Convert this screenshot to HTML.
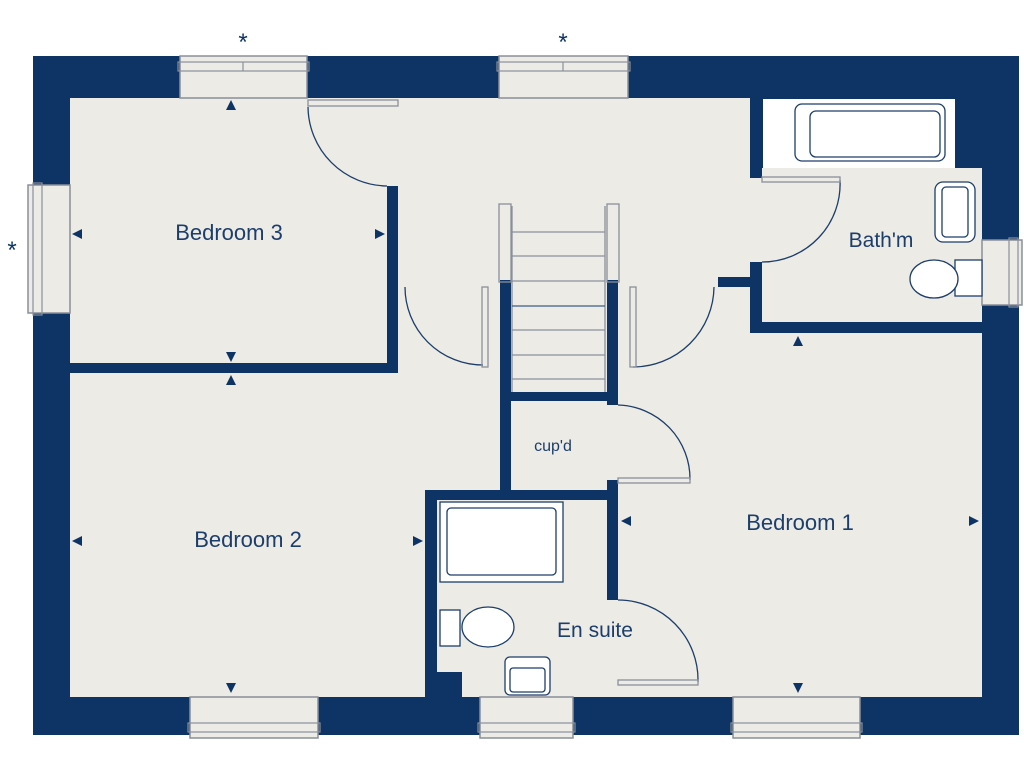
<!DOCTYPE html>
<html><head><style>html,body{margin:0;padding:0;background:#fff}svg{display:block}</style></head>
<body>
<svg width="1024" height="768" viewBox="0 0 1024 768" xmlns="http://www.w3.org/2000/svg" font-family="Liberation Sans, sans-serif">
<rect width="1024" height="768" fill="#fff"/>
<rect x="33" y="56" width="986" height="679" fill="#0d3464"/>
<g fill="#ecebe6">
<rect x="70" y="98" width="680" height="599"/>
<rect x="750" y="168" width="232" height="529"/>
<rect x="437" y="500" width="181" height="197"/>
</g>
<!-- bath area white -->
<rect x="763" y="99" width="192" height="69" fill="#fff"/>
<g fill="#0d3464">
<rect x="70" y="363" width="328" height="10"/>
<rect x="387" y="186" width="11" height="187"/>
<rect x="500" y="280" width="11" height="220"/>
<rect x="607" y="280" width="11" height="125"/>
<rect x="500" y="392" width="118" height="9"/>
<rect x="425" y="490" width="193" height="10"/>
<rect x="425" y="490" width="12" height="207"/>
<rect x="437" y="672" width="25" height="25"/>
<rect x="607" y="480" width="11" height="120"/>
<rect x="750" y="98" width="12" height="80"/>
<rect x="750" y="262" width="12" height="71"/>
<rect x="718" y="277" width="32" height="10"/>
<rect x="750" y="322" width="232" height="11"/>
<rect x="955" y="98" width="27" height="70"/>
</g>
<!-- windows -->
<g fill="#ecebe6" stroke="#8a8f99" stroke-width="1.5">
<rect x="180" y="56" width="127" height="42"/>
<rect x="499" y="56" width="129" height="42"/>
<rect x="190" y="697" width="128" height="41"/>
<rect x="480" y="697" width="93" height="41"/>
<rect x="733" y="697" width="127" height="41"/>
<rect x="28" y="185" width="42" height="128"/>
<rect x="982" y="240" width="40" height="65"/>
</g>
<g stroke="#8a8f99" stroke-width="1.2" fill="none">
<rect x="178" y="62" width="131" height="9"/><line x1="243" y1="62" x2="243" y2="71"/>
<rect x="497" y="62" width="133" height="9"/><line x1="563" y1="62" x2="563" y2="71"/>
<rect x="188" y="723" width="132" height="9"/>
<rect x="478" y="723" width="97" height="9"/>
<rect x="731" y="723" width="131" height="9"/>
<rect x="33" y="183" width="9" height="132"/>
<rect x="1009" y="238" width="9" height="69"/>
</g>
<!-- stairs -->
<g stroke="#8a8f99" stroke-width="1.3" fill="none">
<rect x="499" y="204" width="12" height="78"/>
<rect x="607" y="204" width="12" height="78"/>
<line x1="512" y1="206" x2="512" y2="392"/><line x1="605" y1="206" x2="605" y2="392"/>
<line x1="512" y1="232" x2="605" y2="232"/><line x1="512" y1="256" x2="605" y2="256"/>
<line x1="512" y1="281" x2="605" y2="281"/><line x1="512" y1="306" x2="605" y2="306" stroke="#3d5d86"/>
<line x1="512" y1="330" x2="605" y2="330"/><line x1="512" y1="355" x2="605" y2="355"/>
<line x1="512" y1="379" x2="605" y2="379"/>
</g>
<!-- doors -->
<g stroke="#1d3e6a" stroke-width="1.3" fill="none">
<path d="M308 107 A80 80 0 0 0 387 186"/><rect x="308" y="100" width="90" height="6" stroke="#8a8f99"/>
<path d="M405 287 A78 78 0 0 0 483 365"/><rect x="482" y="287" width="6" height="80" stroke="#8a8f99"/>
<path d="M714 287 A81 81 0 0 1 633 367"/><rect x="630" y="287" width="6" height="80" stroke="#8a8f99"/>
<path d="M840 180 A78 78 0 0 1 762 262"/><rect x="762" y="177" width="78" height="5" stroke="#8a8f99"/>
<path d="M618 405 A74 74 0 0 1 690 480"/><rect x="618" y="478" width="72" height="5" stroke="#8a8f99"/>
<path d="M618 600 A80 80 0 0 1 698 682"/><rect x="618" y="680" width="80" height="5" stroke="#8a8f99"/>
</g>
<!-- fixtures -->
<g stroke="#1d3e6a" stroke-width="1.3" fill="#fff">
<rect x="795" y="104" width="150" height="57" rx="7"/>
<rect x="810" y="111" width="130" height="46" rx="6"/>
<rect x="935" y="182" width="40" height="60" rx="8"/>
<rect x="942" y="187" width="26" height="50" rx="4"/>
<rect x="955" y="260" width="27" height="36"/>
<ellipse cx="934" cy="279" rx="24" ry="19"/>
<rect x="440" y="502" width="123" height="80"/>
<rect x="447" y="508" width="109" height="67" rx="4"/>
<rect x="440" y="610" width="20" height="36"/>
<ellipse cx="488" cy="627" rx="26" ry="20"/>
<rect x="505" y="657" width="45" height="38" rx="5"/>
<rect x="510" y="668" width="35" height="24" rx="3"/>
</g>
<!-- arrows -->
<g fill="#0d3464">
<path d="M231 100 l-5 10 h10z"/><path d="M231 362 l-5 -10 h10z"/><path d="M231 375 l-5 10 h10z"/>
<path d="M72 234 l10 -5 v10z"/><path d="M385 234 l-10 -5 v10z"/>
<path d="M72 541 l10 -5 v10z"/><path d="M423 541 l-10 -5 v10z"/>
<path d="M231 693 l-5 -10 h10z"/>
<path d="M798 336 l-5 10 h10z"/><path d="M798 693 l-5 -10 h10z"/>
<path d="M621 521 l10 -5 v10z"/><path d="M979 521 l-10 -5 v10z"/>
</g>
<g fill="#1d3e6a" text-anchor="middle">
<text x="229" y="240" font-size="22">Bedroom 3</text>
<text x="248" y="547" font-size="22">Bedroom 2</text>
<text x="800" y="530" font-size="22">Bedroom 1</text>
<text x="881" y="247" font-size="21">Bath'm</text>
<text x="595" y="637" font-size="21">En suite</text>
<text x="553" y="451" font-size="16">cup'd</text>
<text x="243" y="50" font-size="24" fill="#0d3464">*</text>
<text x="563" y="50" font-size="24" fill="#0d3464">*</text>
<text x="12" y="258" font-size="24" fill="#0d3464">*</text>
</g>
</svg>
</body></html>
